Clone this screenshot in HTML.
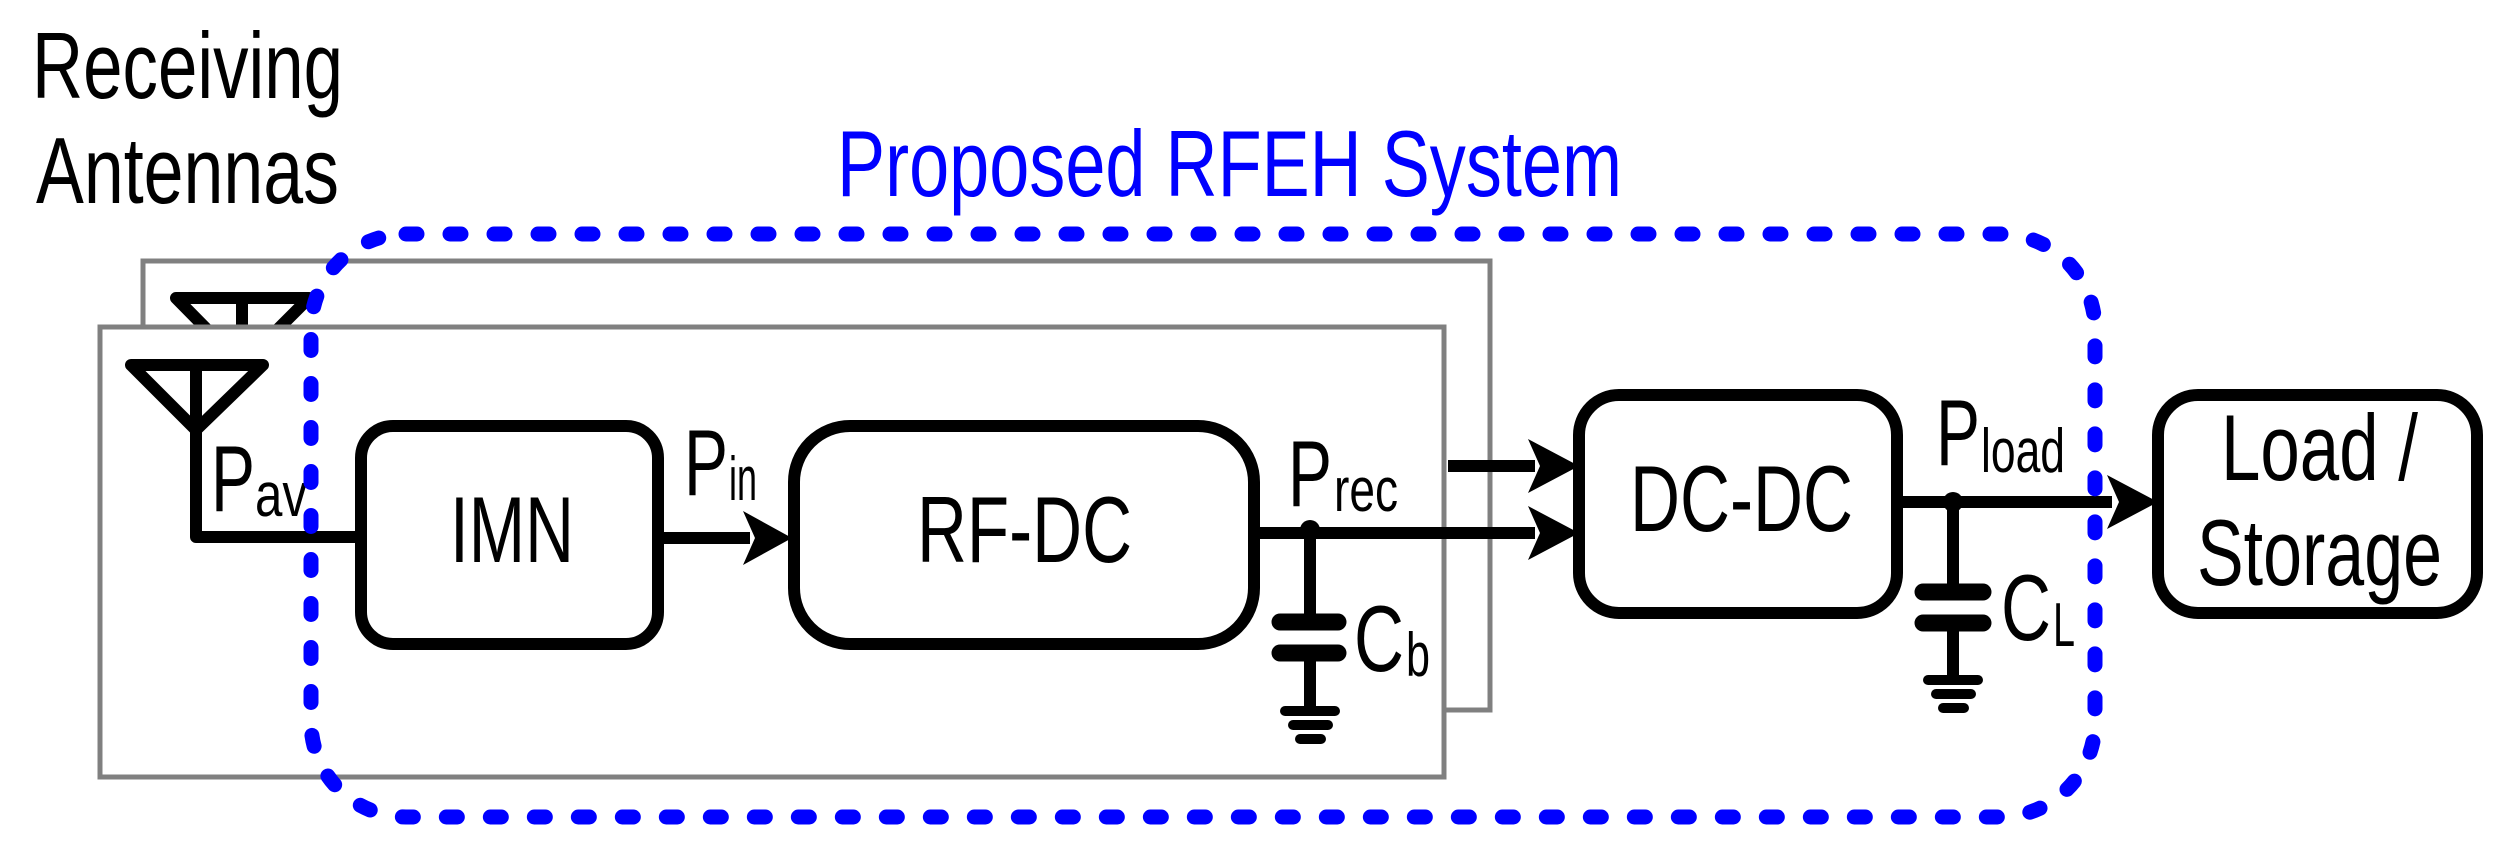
<!DOCTYPE html>
<html><head><meta charset="utf-8"><style>html,body{margin:0;padding:0;background:#fff}svg{display:block}</style></head>
<body>
<svg width="2503" height="848" viewBox="0 0 2503 848" xmlns="http://www.w3.org/2000/svg" font-family="Liberation Sans, Arial, sans-serif">
<rect width="2503" height="848" fill="#fff"/>
<rect x="143" y="261" width="1347" height="449" fill="#fff" stroke="#808080" stroke-width="5"/>
<g stroke="#000" stroke-width="12" fill="none" stroke-linejoin="round" stroke-linecap="round">
<path d="M176 298 L309 298 L242 365 Z M242 298 L242 365"/>
</g>
<rect x="100" y="327" width="1344" height="450" fill="#fff" stroke="#808080" stroke-width="5"/>
<g stroke="#000" stroke-width="12" fill="none" stroke-linejoin="round" stroke-linecap="round">
<path d="M131 365 L263 365 L196 430 Z M196 365 L196 537 L360 537"/>
</g>
<g stroke="#000" stroke-width="12" fill="#fff">
<rect x="361" y="426" width="297" height="218" rx="32"/>
<rect x="794" y="426" width="460" height="218" rx="56"/>
<rect x="1579" y="395" width="318" height="218" rx="40"/>
<rect x="2158" y="395" width="319" height="218" rx="40"/>
</g>
<g stroke="#000" stroke-width="12" fill="none">
<line x1="658" y1="538" x2="750" y2="538"/>
<line x1="1254" y1="533" x2="1535" y2="533"/>
<line x1="1448" y1="466" x2="1535" y2="466"/>
<line x1="1897" y1="502" x2="2112" y2="502"/>
<line x1="1310" y1="533" x2="1310" y2="622"/>
<line x1="1310" y1="653" x2="1310" y2="711"/>
<line x1="1953" y1="502" x2="1953" y2="592"/>
<line x1="1953" y1="623" x2="1953" y2="680"/>
</g>
<g fill="#000">
<path d="M743 511 L792 538 L743 565 L755 538 Z"/>
<path d="M1528 506 L1579 533 L1528 560 L1540 533 Z"/>
<path d="M1528 439 L1579 466 L1528 493 L1540 466 Z"/>
<path d="M2107 475 L2158 502 L2107 529 L2119 502 Z"/>
<circle cx="1310" cy="530" r="10"/>
<circle cx="1953" cy="502" r="10"/>
</g>
<g stroke="#000" stroke-width="17" stroke-linecap="round">
<line x1="1280" y1="622" x2="1338" y2="622"/>
<line x1="1280" y1="653" x2="1338" y2="653"/>
<line x1="1923" y1="592" x2="1983" y2="592"/>
<line x1="1923" y1="623" x2="1983" y2="623"/>
</g>
<g stroke="#000" stroke-width="10" stroke-linecap="round">
<line x1="1285" y1="711" x2="1335" y2="711"/><line x1="1293" y1="725" x2="1328" y2="725"/><line x1="1300" y1="739" x2="1321" y2="739"/>
<line x1="1928" y1="680" x2="1978" y2="680"/><line x1="1936" y1="694" x2="1971" y2="694"/><line x1="1943" y1="708" x2="1964" y2="708"/>
</g>
<g fill="#000" font-size="94">
<text x="32" y="98" textLength="311" lengthAdjust="spacingAndGlyphs">Receiving</text>
<text x="36" y="203" textLength="303" lengthAdjust="spacingAndGlyphs">Antennas</text>
<text x="450" y="562" textLength="124" lengthAdjust="spacingAndGlyphs">IMN</text>
<text x="917" y="562" textLength="215" lengthAdjust="spacingAndGlyphs">RF-DC</text>
<text x="1630" y="531" textLength="223" lengthAdjust="spacingAndGlyphs">DC-DC</text>
<text x="2221" y="480" textLength="197" lengthAdjust="spacingAndGlyphs">Load /</text>
<text x="2197" y="585" textLength="245" lengthAdjust="spacingAndGlyphs">Storage</text>
<text x="211" y="511" textLength="44" lengthAdjust="spacingAndGlyphs">P</text>
<text x="684" y="495" textLength="44" lengthAdjust="spacingAndGlyphs">P</text>
<text x="1288" y="506" textLength="44" lengthAdjust="spacingAndGlyphs">P</text>
<text x="1936" y="465" textLength="44" lengthAdjust="spacingAndGlyphs">P</text>
<text x="1354" y="671" textLength="50" lengthAdjust="spacingAndGlyphs">C</text>
<text x="2001" y="640" textLength="50" lengthAdjust="spacingAndGlyphs">C</text>
</g>
<g fill="#000" font-size="62">
<text x="255" y="516" textLength="52" lengthAdjust="spacingAndGlyphs">av</text>
<text x="729" y="500" textLength="28" lengthAdjust="spacingAndGlyphs">in</text>
<text x="1334" y="511" textLength="64" lengthAdjust="spacingAndGlyphs">rec</text>
<text x="1981" y="472" textLength="84" lengthAdjust="spacingAndGlyphs">load</text>
<text x="1406" y="676" textLength="24" lengthAdjust="spacingAndGlyphs">b</text>
<text x="2053" y="646" textLength="22" lengthAdjust="spacingAndGlyphs">L</text>
</g>
<text x="837" y="196" font-size="94" fill="#0000ff" textLength="785" lengthAdjust="spacingAndGlyphs">Proposed RFEH System</text>
<rect x="311" y="234" width="1784" height="583" rx="95" ry="95" fill="none" stroke="#0000ff" stroke-width="15" stroke-dasharray="11 33" stroke-linecap="round"/>
</svg>
</body></html>
